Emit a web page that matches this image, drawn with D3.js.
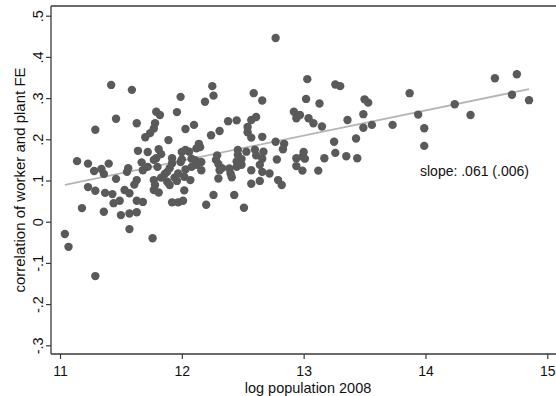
<!DOCTYPE html>
<html>
<head>
<meta charset="utf-8">
<script src="https://cdn.jsdelivr.net/npm/d3@7"></script>
<style>
  body { margin: 0; background: #fff; }
  svg { display: block; font-family: "Liberation Sans", Arial, sans-serif; }
</style>
</head>
<body>
<svg id="chart" width="556" height="396"></svg>
<script>
// log population 2008 (x) and correlation of worker and plant FE (y)
const logPop = [
  11.04, 11.07, 11.29, 11.18, 11.36, 11.14, 11.23, 11.29, 11.28, 11.34,
  11.36, 11.23, 11.29, 11.37, 11.43, 11.42, 11.59, 11.46, 11.63, 11.40,
  11.46, 11.56, 11.55, 11.53, 11.57, 11.63, 11.61, 11.64, 11.44, 11.49,
  11.50, 11.57, 11.63, 11.57, 11.63, 11.68, 11.67, 11.68, 11.72, 11.70,
  11.74, 11.77, 11.78, 11.72, 11.79, 11.82, 11.96, 11.89, 11.81, 11.83,
  11.79, 11.77, 11.92, 11.92, 11.90, 11.88, 11.80, 11.77, 11.78, 11.83,
  11.86, 11.88, 11.90, 11.94, 11.97, 11.96, 11.77, 11.81, 11.92, 11.97,
  12.01, 12.02, 11.76, 11.99, 12.10, 12.03, 12.24, 12.31, 12.14, 12.15,
  12.12, 12.06, 12.03, 12.00, 12.00, 11.99, 12.08, 12.11, 12.08, 12.12,
  12.16, 12.16, 12.03, 12.02, 12.07, 12.20, 12.25, 12.26, 12.19, 12.26,
  12.43, 12.51, 12.38, 12.45, 12.57, 12.61, 12.54, 12.54, 12.57, 12.66,
  12.59, 12.66, 12.77, 12.84, 12.83, 12.29, 12.28, 12.30, 12.33, 12.46,
  12.46, 12.49, 12.45, 12.39, 12.40, 12.41, 12.45, 12.49, 12.31, 12.53,
  12.60, 12.67, 12.61, 12.66, 12.64, 12.57, 12.66, 12.72, 12.78, 12.57,
  12.64, 12.79, 12.82, 12.92, 12.97, 12.94, 13.00, 12.99, 13.01, 12.94,
  12.94, 12.99, 12.30, 12.77, 13.03, 13.26, 13.30, 13.02, 13.13, 13.50,
  13.53, 13.04, 13.08, 13.15, 13.36, 13.49, 13.49, 13.56, 13.73, 13.87,
  13.94, 13.25, 13.43, 13.17, 13.26, 13.35, 13.44, 13.12, 13.99, 13.99,
  14.24, 14.37, 14.57, 14.75, 14.71, 14.85
];
const corrFE = [
  -0.030, -0.061, -0.132, 0.033, 0.024, 0.147, 0.141, 0.223, 0.123, 0.128,
  0.116, 0.084, 0.075, 0.070, 0.067, 0.332, 0.320, 0.250, 0.239, 0.141,
  0.104, 0.130, 0.121, 0.077, 0.069, 0.101, 0.090, 0.172, 0.045, 0.051,
  0.016, 0.020, 0.023, -0.018, 0.051, 0.048, 0.144, 0.125, 0.133, 0.205,
  0.215, 0.226, 0.239, 0.169, 0.267, 0.259, 0.266, 0.198, 0.176, 0.164,
  0.154, 0.150, 0.154, 0.142, 0.130, 0.121, 0.133, 0.101, 0.089, 0.107,
  0.116, 0.097, 0.089, 0.107, 0.117, 0.099, 0.077, 0.071, 0.047, 0.047,
  0.051, 0.076, -0.040, 0.303, 0.235, 0.225, 0.210, 0.220, 0.189, 0.181,
  0.178, 0.170, 0.174, 0.169, 0.151, 0.145, 0.153, 0.149, 0.133, 0.138,
  0.145, 0.125, 0.127, 0.109, 0.101, 0.041, 0.329, 0.306, 0.291, 0.065,
  0.065, 0.034, 0.244, 0.246, 0.247, 0.254, 0.230, 0.217, 0.204, 0.206,
  0.312, 0.294, 0.194, 0.189, 0.176, 0.161, 0.150, 0.140, 0.130, 0.174,
  0.162, 0.152, 0.146, 0.129, 0.117, 0.108, 0.133, 0.138, 0.125, 0.170,
  0.175, 0.170, 0.161, 0.153, 0.138, 0.125, 0.121, 0.117, 0.151, 0.092,
  0.099, 0.101, 0.089, 0.267, 0.259, 0.251, 0.169, 0.158, 0.153, 0.154,
  0.135, 0.124, 0.105, 0.446, 0.346, 0.333, 0.329, 0.298, 0.287, 0.297,
  0.289, 0.251, 0.239, 0.231, 0.247, 0.261, 0.228, 0.235, 0.235, 0.312,
  0.260, 0.194, 0.202, 0.154, 0.167, 0.159, 0.154, 0.124, 0.227, 0.184,
  0.285, 0.259, 0.348, 0.358, 0.308, 0.295
];

const xTicks = [11, 12, 13, 14, 15];
const yTicks = [-0.3, -0.2, -0.1, 0, 0.1, 0.2, 0.3, 0.4, 0.5];
const yTickLabels = ["-.3", "-.2", "-.1", "0", ".1", ".2", ".3", ".4", ".5"];

// linear fit shown in the picture
const fitRange = [11.04, 14.85];
const fitIntercept = -0.584;
const fitSlope = 0.061;
const slopeLabel = "slope: .061 (.006)";

const xTitle = "log population 2008";
const yTitle = "correlation of worker and plant FE";

const svg = d3.select("#chart");

// plot region (right edge lies past the cropped image)
const region = {left: 51, top: 6, right: 565, bottom: 354};

const x = d3.scaleLinear().domain([11, 15]).range([60, 547.3]);
const y = d3.scaleLinear().domain([-0.3, 0.5]).range([345.3, 15.7]);

const axisCol = "#3a3a3a";

// top border of the plot region
svg.append("line")
  .attr("x1", region.left).attr("x2", region.right)
  .attr("y1", region.top).attr("y2", region.top)
  .attr("stroke", axisCol).attr("stroke-width", 1.3);

// fit line (under the markers)
svg.append("line")
  .attr("x1", x(fitRange[0])).attr("y1", y(fitIntercept + fitSlope * fitRange[0]))
  .attr("x2", x(fitRange[1])).attr("y2", y(fitIntercept + fitSlope * fitRange[1]))
  .attr("stroke", "#b5b5b5").attr("stroke-width", 1.8);

// scatter
svg.append("g")
  .selectAll("circle")
  .data(logPop.map((v, i) => [v, corrFE[i]]))
  .enter().append("circle")
    .attr("cx", d => x(d[0]))
    .attr("cy", d => y(d[1]))
    .attr("r", 4.2)
    .attr("fill", "#5a5a5a");

// y axis
const gy = svg.append("g")
  .attr("transform", `translate(${region.left},0)`)
  .call(d3.axisLeft(y).tickValues(yTicks).tickSize(5)
    .tickFormat((d, i) => yTickLabels[i]));
gy.select(".domain").remove();
gy.append("line")
  .attr("x1", 0).attr("x2", 0)
  .attr("y1", region.top).attr("y2", region.bottom)
  .attr("stroke", axisCol).attr("stroke-width", 1.3);
gy.selectAll(".tick line").attr("stroke", axisCol).attr("stroke-width", 1.2);
gy.selectAll(".tick text")
  .attr("x", 0).attr("y", 0).attr("dy", 0)
  .attr("text-anchor", "middle")
  .attr("transform", "translate(-8.5,0) rotate(-90)")
  .style("font-size", "14.5px")
  .attr("fill", "#111");

// x axis
const gx = svg.append("g")
  .attr("transform", `translate(0,${region.bottom})`)
  .call(d3.axisBottom(x).tickValues(xTicks).tickSize(5).tickFormat(d3.format("d")));
gx.select(".domain").remove();
gx.append("line")
  .attr("x1", region.left).attr("x2", region.right)
  .attr("y1", 0).attr("y2", 0)
  .attr("stroke", axisCol).attr("stroke-width", 1.3);
gx.selectAll(".tick line").attr("stroke", axisCol).attr("stroke-width", 1.2);
gx.selectAll(".tick text")
  .attr("y", 22.3).attr("dy", 0)
  .style("font-size", "14px")
  .attr("fill", "#111");

// titles
svg.append("text")
  .attr("x", (region.left + region.right) / 2)
  .attr("y", 393)
  .attr("text-anchor", "middle")
  .style("font-size", "14.5px")
  .attr("fill", "#111")
  .text(xTitle);

svg.append("text")
  .attr("transform", `translate(24.5,${(region.top + region.bottom) / 2}) rotate(-90)`)
  .attr("text-anchor", "middle")
  .style("font-size", "15px")
  .attr("fill", "#111")
  .text(yTitle);

// slope annotation
svg.append("text")
  .attr("x", x(13.955))
  .attr("y", y(0.112))
  .style("font-size", "14px")
  .attr("fill", "#111")
  .text(slopeLabel);
</script>
</body>
</html>
